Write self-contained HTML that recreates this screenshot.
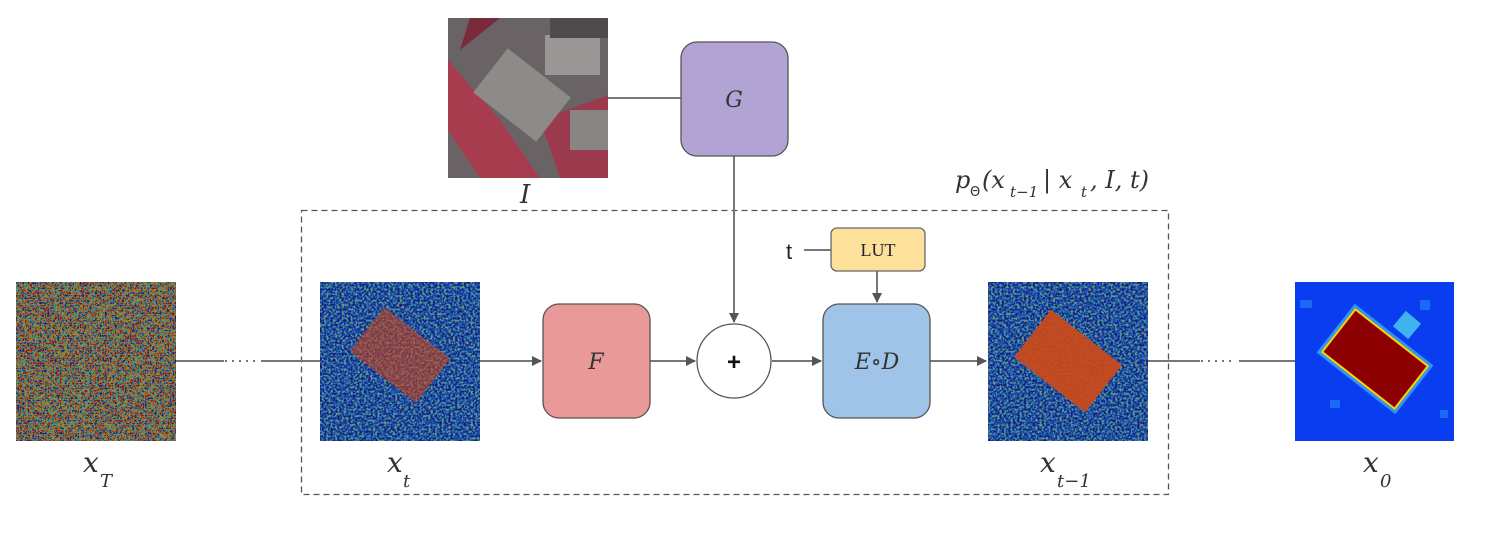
<!DOCTYPE html>
<html><head><meta charset="utf-8"><style>
body{margin:0;background:#fff;width:1489px;height:534px;overflow:hidden}
svg{display:block}
.m{font-family:"DejaVu Serif","Liberation Serif",serif;font-style:italic;fill:#333}
</style></head><body>
<svg width="1489" height="534" viewBox="0 0 1489 534" xmlns="http://www.w3.org/2000/svg">
<defs>
<filter id="n1" x="0" y="0" width="100%" height="100%" color-interpolation-filters="sRGB">
<feTurbulence type="fractalNoise" baseFrequency="0.4" numOctaves="2" seed="5" result="t"/>
<feColorMatrix in="t" type="matrix" values="2.2 0 0 0 -0.6  2.2 0 0 0 -0.6  2.2 0 0 0 -0.6  0 0 0 0 1" result="g"/>
<feComponentTransfer in="g">
<feFuncR type="table" tableValues="0.2 0.15 0.2 0.7 0.7 0.5"/>
<feFuncG type="table" tableValues="0.1 0.25 0.6 0.55 0.2 0.05"/>
<feFuncB type="table" tableValues="0.4 0.6 0.5 0.15 0.08 0.1"/>
</feComponentTransfer>
</filter>
<filter id="n2" x="0" y="0" width="100%" height="100%" color-interpolation-filters="sRGB">
<feTurbulence type="fractalNoise" baseFrequency="0.45" numOctaves="2" seed="8" result="t"/>
<feColorMatrix in="t" type="matrix" values="2 0 0 0 -0.6  2 0 0 0 -0.6  2 0 0 0 -0.6  0 0 0 0 1" result="g"/>
<feComponentTransfer in="g">
<feFuncR type="table" tableValues="0.1 0.1 0.12 0.35 0.7"/>
<feFuncG type="table" tableValues="0.1 0.2 0.4 0.65 0.5"/>
<feFuncB type="table" tableValues="0.45 0.62 0.7 0.5 0.2"/>
</feComponentTransfer>
</filter>
<marker id="a" markerWidth="10" markerHeight="10" refX="9" refY="5" orient="auto" markerUnits="userSpaceOnUse"><path d="M0,0 L10,5 L0,10z" fill="#555"/></marker>
</defs>

<rect x="301.5" y="210.5" width="867" height="284" fill="none" stroke="#555" stroke-width="1.3" stroke-dasharray="6,4"/>

<g stroke="#777" stroke-width="2" fill="none">
<line x1="176" y1="361" x2="224" y2="361"/>
<line x1="225" y1="361" x2="258" y2="361" stroke-dasharray="2,5"/>
<line x1="261" y1="361" x2="320" y2="361"/>
<line x1="480" y1="361" x2="541" y2="361" marker-end="url(#a)"/>
<line x1="650" y1="361" x2="695" y2="361" marker-end="url(#a)"/>
<line x1="772" y1="361" x2="821" y2="361" marker-end="url(#a)"/>
<line x1="930" y1="361" x2="986" y2="361" marker-end="url(#a)"/>
<line x1="1148" y1="361" x2="1200" y2="361"/>
<line x1="1201" y1="361" x2="1236" y2="361" stroke-dasharray="2,5"/>
<line x1="1239" y1="361" x2="1295" y2="361"/>
<line x1="608" y1="98" x2="681" y2="98"/>
<line x1="734" y1="156" x2="734" y2="322" marker-end="url(#a)"/>
<line x1="877" y1="271" x2="877" y2="302" marker-end="url(#a)"/>
<line x1="804" y1="250" x2="831" y2="250"/>
</g>

<rect x="16" y="282" width="160" height="159" fill="#735a6e" filter="url(#n1)"/>
<rect x="320" y="282" width="160" height="159" fill="#3355a0" filter="url(#n2)"/>
<g transform="translate(400,355) rotate(38)"><rect x="-42" y="-28" width="84" height="56" fill="#c8421a" opacity="0.6"/></g>
<rect x="988" y="282" width="160" height="159" fill="#3355a0" filter="url(#n2)"/>
<g transform="translate(1068,361) rotate(38)"><rect x="-45" y="-30" width="90" height="60" fill="#cc4a18" opacity="0.92"/></g>

<rect x="1295" y="282" width="159" height="159" fill="#0a3df0"/>
<rect x="1300" y="300" width="12" height="8" fill="#1a6af5"/><rect x="1420" y="300" width="10" height="10" fill="#1a6af5"/>
<rect x="1330" y="400" width="10" height="8" fill="#1a6af5"/><rect x="1440" y="410" width="8" height="8" fill="#1a6af5"/>
<g transform="translate(1407,325) rotate(40)"><rect x="-10" y="-10" width="20" height="20" fill="#3fb2f0"/></g>
<g transform="translate(1375,359) rotate(38)"><rect x="-50" y="-31" width="100" height="62" fill="#4ad0f0" opacity="0.6"/><rect x="-47" y="-28" width="94" height="56" fill="#ffd000"/><rect x="-45" y="-26" width="90" height="52" fill="#8c0000"/></g>

<rect x="448" y="18" width="160" height="160" fill="#6a6366"/>
<path d="M448,60 L500,120 L540,178 L480,178 L448,130z" fill="#b8324a" opacity="0.8"/>
<path d="M540,120 L608,95 L608,178 L560,178z" fill="#a83046" opacity="0.8"/>
<path d="M470,18 L500,18 L460,50z" fill="#7a2a3a"/>
<g transform="translate(522,95) rotate(38)"><rect x="-40" y="-28" width="80" height="56" fill="#8e8a88"/></g>
<rect x="545" y="35" width="55" height="40" fill="#9a9696"/>
<rect x="570" y="110" width="38" height="40" fill="#8a8585"/>
<rect x="550" y="18" width="58" height="20" fill="#504a4c"/>

<rect x="681" y="42" width="107" height="114" rx="16" fill="#b1a4d4" stroke="#555" stroke-width="1.3"/>
<text x="734" y="107" class="m" font-size="22" text-anchor="middle">G</text>
<rect x="543" y="304" width="107" height="114" rx="16" fill="#e99a98" stroke="#555" stroke-width="1.3"/>
<text x="596" y="369" class="m" font-size="22" text-anchor="middle">F</text>
<rect x="823" y="304" width="107" height="114" rx="16" fill="#9fc4e8" stroke="#555" stroke-width="1.3"/>
<text x="877" y="369" class="m" font-size="22" text-anchor="middle">E∘D</text>
<circle cx="734" cy="361" r="37" fill="#fff" stroke="#555" stroke-width="1.3"/>
<text x="734" y="370" font-family="Liberation Sans,sans-serif" font-weight="bold" font-size="24" text-anchor="middle" fill="#111">+</text>
<rect x="831" y="228" width="94" height="43" rx="6" fill="#fde19a" stroke="#666" stroke-width="1.3"/>
<text x="878" y="256" font-family="Liberation Serif,serif" font-size="18" text-anchor="middle" fill="#222">LUT</text>
<text x="786" y="259" font-family="Liberation Sans,sans-serif" font-size="22" fill="#222">t</text>

<text x="83" y="472" class="m" font-size="28">x</text><text x="100" y="487" class="m" font-size="18">T</text>
<text x="387" y="472" class="m" font-size="28">x</text><text x="403" y="487" class="m" font-size="18">t</text>
<text x="1040" y="472" class="m" font-size="28">x</text><text x="1057" y="487" class="m" font-size="18">t−1</text>
<text x="1363" y="472" class="m" font-size="28">x</text><text x="1380" y="487" class="m" font-size="18" font-style="normal">0</text>
<text x="520" y="203" class="m" font-size="26">I</text>
<text x="955" y="188" class="m" font-size="24">p</text><text x="970" y="196" font-family="DejaVu Sans,sans-serif" font-size="13" fill="#333">Θ</text>
<text x="982" y="188" class="m" font-size="24">(x</text><text x="1010" y="197" class="m" font-size="15">t−1</text>
<text x="1043" y="188" class="m" font-size="24">| x</text><text x="1081" y="197" class="m" font-size="15">t</text>
<text x="1090" y="188" class="m" font-size="24">, I, t)</text>
</svg>
</body></html>
